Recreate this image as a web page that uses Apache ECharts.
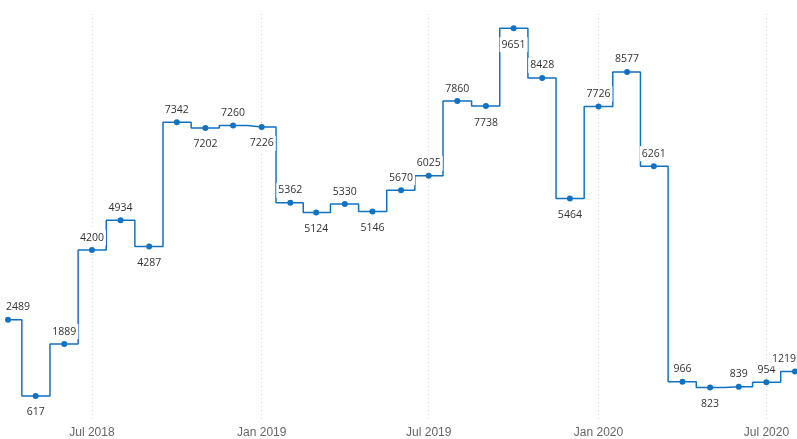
<!DOCTYPE html>
<html>
<head>
<meta charset="utf-8">
<style>
  html, body { margin: 0; padding: 0; background: #fff; }
  #chart { width: 797px; height: 439px; }
</style>
<script src="https://cdn.jsdelivr.net/npm/echarts@6/dist/echarts.min.js"></script>
</head>
<body>
<div id="chart"></div>
<script>
// monthly values, Apr 2018 - Aug 2020
const months = [
  '2018-04-01', '2018-05-01', '2018-06-01', '2018-07-01', '2018-08-01', '2018-09-01',
  '2018-10-01', '2018-11-01', '2018-12-01', '2019-01-01', '2019-02-01', '2019-03-01',
  '2019-04-01', '2019-05-01', '2019-06-01', '2019-07-01', '2019-08-01', '2019-09-01',
  '2019-10-01', '2019-11-01', '2019-12-01', '2020-01-01', '2020-02-01', '2020-03-01',
  '2020-04-01', '2020-05-01', '2020-06-01', '2020-07-01', '2020-08-01'
]
const values = [
  2489, 617, 1889, 4200, 4934, 4287,
  7342, 7202, 7260, 7226, 5362, 5124,
  5330, 5146, 5670, 6025, 7860, 7738,
  9651, 8428, 5464, 7726, 8577, 6261,
  966, 823, 839, 954, 1219
]
// where each value label sits (t = above, b = below)
const labelSides = [
  't', 'b', 't', 't', 't', 'b',
  't', 'b', 't', 'b', 't', 'b',
  't', 'b', 't', 't', 't', 'b',
  'b', 't', 'b', 't', 't', 't',
  't', 'b', 't', 't', 't'
]
// x axis tick labels
const tickDates = ['2018-07-01', '2019-01-01', '2019-07-01', '2020-01-01', '2020-07-01']

const monthNames = ['Jan', 'Feb', 'Mar', 'Apr', 'May', 'Jun', 'Jul', 'Aug', 'Sep', 'Oct', 'Nov', 'Dec']
const toTime = s => {
  const p = s.split('-').map(Number)
  return Date.UTC(p[0], p[1] - 1, p[2])
}
const tickValues = tickDates.map(toTime)

const chart = echarts.init(document.getElementById('chart'))

const seriesData = values.map((v, i) => {
  const first = i === 0
  const last = i === values.length - 1
  return {
    value: [toTime(months[i]), v],
    label: {
      position: labelSides[i] === 't' ? 'top' : 'bottom',
      // keep the edge labels inside the chart
      align: first ? 'left' : last ? 'right' : 'center',
      offset: first ? [-4, 2] : last ? [3, 2] : [0, 2]
    }
  }
})

chart.setOption({
  animation: false,
  grid: { left: 8, right: 2, top: 14, bottom: 18 },
  xAxis: {
    type: 'value',
    min: toTime(months[0]),
    max: toTime(months[months.length - 1]),
    axisLine: { show: false },
    axisTick: { show: false, customValues: tickValues },
    axisLabel: {
      customValues: tickValues,
      color: '#666',
      fontSize: 12,
      fontFamily: 'Liberation Sans',
      margin: 6,
      formatter: v => {
        const d = new Date(v)
        return monthNames[d.getUTCMonth()] + ' ' + d.getUTCFullYear()
      }
    },
    splitLine: {
      show: true,
      lineStyle: { color: '#d9d9d9', type: [1, 3], width: 1 }
    }
  },
  yAxis: {
    type: 'value',
    min: 0,
    max: 10000,
    show: false
  },
  series: [{
    type: 'line',
    step: 'middle',
    data: seriesData,
    symbol: 'circle',
    symbolSize: 6,
    itemStyle: { color: '#1272c2' },
    lineStyle: { color: '#1272c2', width: 1.5 },
    label: {
      show: true,
      formatter: p => p.value[1],
      color: '#333',
      fontSize: 10.5,
      fontFamily: 'Open Sans',
      backgroundColor: '#fff',
      padding: [2, 2],
      distance: 4
    }
  }]
})
</script>
</body>
</html>
